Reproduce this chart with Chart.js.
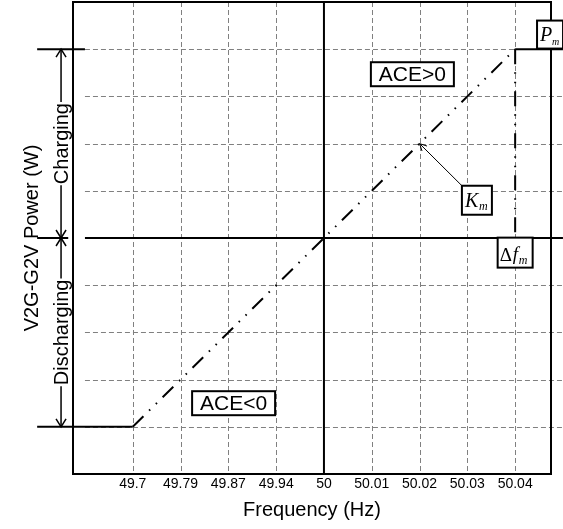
<!DOCTYPE html>
<html><head><meta charset="utf-8">
<script src="https://cdn.jsdelivr.net/npm/chart.js@4/dist/chart.umd.min.js"></script>
<style>html,body{margin:0;padding:0;background:#fff;}canvas{display:block;}</style>
</head><body>
<canvas id="c" width="563" height="529"></canvas>
<script>
// ---- data ----
const freqLabels = ['49.7','49.79','49.87','49.94','50','50.01','50.02','50.03','50.04'];
const freqTickIndex = [0,1,2,3,4,5,6,7,8];
const powerLevels = [-4,-3,-2,-1,0,1,2,3,4];
const powerX = [-2, 0, 8, 9];
const powerY = [-4, -4, 4, 4];
const limitX = [8, 8];
const limitY = [4, 0];
const aceLabels = ['ACE>0', 'ACE<0'];
const aceX = [5.85, 2.11];
const aceY = [3.47, -3.5];
const kmPoint = [6, 2];
const kmBox = [7.2, 0.8];
const dfBox = [8.0, -0.31];
const pmBox = [8.73, 4.31];
const sideLabels = ['Charging', 'Discharging'];
const sideLabelY = [2, -2];

const SANS = '"Liberation Sans", Arial, sans-serif';
const SERIF = '"Liberation Serif", "Times New Roman", serif';
const DDOT = [15, 8, 1.5, 8, 1.5, 8];
const GRID = '#808080';

function seg(ctx, x1, y1, x2, y2, color, w, dash) {
  ctx.save(); ctx.beginPath(); ctx.strokeStyle = color; ctx.lineWidth = w;
  ctx.setLineDash(dash || []); ctx.moveTo(x1, y1); ctx.lineTo(x2, y2); ctx.stroke(); ctx.restore();
}
function box(ctx, cx, cy, w, h) {
  ctx.save(); ctx.fillStyle = '#fff'; ctx.fillRect(cx - w/2, cy - h/2, w, h);
  ctx.strokeStyle = '#000'; ctx.lineWidth = 2; ctx.strokeRect(cx - w/2, cy - h/2, w, h); ctx.restore();
}
function arrowHead(ctx, tx, ty, dx, dy, len, half, w) {
  const L = Math.hypot(dx, dy); const ux = dx / L, uy = dy / L;
  const bx = tx - ux * len, by = ty - uy * len;
  const px = -uy * half, py = ux * half;
  ctx.save(); ctx.beginPath(); ctx.strokeStyle = '#000'; ctx.lineWidth = w;
  ctx.moveTo(bx + px, by + py); ctx.lineTo(tx, ty); ctx.lineTo(bx - px, by - py); ctx.stroke(); ctx.restore();
}

const decor = {
  id: 'decor',
  beforeDatasetsDraw(chart) {
    const {ctx, chartArea: a, scales: {x, y}} = chart;
    freqTickIndex.forEach(i => {
      if (freqLabels[i] === '50') return;
      const px = Math.round(x.getPixelForValue(i)) + 0.5;
      seg(ctx, px, a.top, px, a.bottom, GRID, 1, [5, 3]);
    });
    powerLevels.forEach(v => {
      if (v === 0) return;
      const py = Math.round(y.getPixelForValue(v)) + 0.5;
      seg(ctx, x.getPixelForValue(-1), py, x.getPixelForValue(9), py, GRID, 1, [5, 3]);
    });
    const x0 = x.getPixelForValue(4), y0 = y.getPixelForValue(0);
    seg(ctx, x0, a.top, x0, a.bottom, '#000', 2);
    seg(ctx, x.getPixelForValue(-1), y0, x.getPixelForValue(9), y0, '#000', 2);
    ctx.save(); ctx.strokeStyle = '#000'; ctx.lineWidth = 2;
    ctx.strokeRect(a.left, a.top, a.right - a.left, a.bottom - a.top); ctx.restore();
  },
  afterDatasetsDraw(chart) {
    const {ctx, scales: {x, y}} = chart;
    const ax = x.getPixelForValue(-1.5);
    const yTop = y.getPixelForValue(4), yZero = y.getPixelForValue(0), yBot = y.getPixelForValue(-4);
    seg(ctx, x.getPixelForValue(-2), yTop, x.getPixelForValue(-1), yTop, '#000', 2);
    seg(ctx, x.getPixelForValue(-2), yZero, x.getPixelForValue(-1.35), yZero, '#000', 2);
    ctx.font = '20px ' + SANS;
    const spans = [[yTop, yZero], [yZero, yBot]];
    sideLabels.forEach((t, i) => {
      const cy = y.getPixelForValue(sideLabelY[i]);
      const w = ctx.measureText(t).width;
      seg(ctx, ax, spans[i][0], ax, cy - w/2 - 1, '#000', 1.5);
      seg(ctx, ax, cy + w/2 + 1, ax, spans[i][1], '#000', 1.5);
      ctx.save(); ctx.translate(ax + 1, cy); ctx.rotate(-Math.PI/2);
      ctx.fillStyle = '#000'; ctx.textAlign = 'center'; ctx.textBaseline = 'middle';
      ctx.fillText(t, 0, 0); ctx.restore();
    });
    arrowHead(ctx, ax, yTop, 0, -1, 8, 5, 1.5);
    arrowHead(ctx, ax, yZero, 0, 1, 8, 5, 1.5);
    arrowHead(ctx, ax, yZero, 0, -1, 8, 5, 1.5);
    arrowHead(ctx, ax, yBot, 0, 1, 8, 5, 1.5);

    aceLabels.forEach((t, i) => {
      const cx = x.getPixelForValue(aceX[i]), cy = y.getPixelForValue(aceY[i]);
      box(ctx, cx, cy, 83, 24);
      ctx.save(); ctx.font = '21px ' + SANS; ctx.fillStyle = '#000';
      ctx.textAlign = 'center'; ctx.textBaseline = 'middle'; ctx.fillText(t, cx, cy + 1); ctx.restore();
    });

    const kx = x.getPixelForValue(kmBox[0]), ky = y.getPixelForValue(kmBox[1]);
    const kw = 30, kh = 29;
    const tx = x.getPixelForValue(kmPoint[0]), ty = y.getPixelForValue(kmPoint[1]);
    const sx = kx - kw/2, sy = ky - kh/2;
    seg(ctx, sx, sy, tx, ty, '#000', 1);
    arrowHead(ctx, tx, ty, tx - sx, ty - sy, 7, 3.5, 1);
    box(ctx, kx, ky, kw, kh);
    ctx.save(); ctx.fillStyle = '#000'; ctx.textBaseline = 'alphabetic';
    ctx.font = 'italic 20px ' + SERIF; ctx.fillText('K', sx + 3, sy + 21);
    ctx.font = 'italic 12px ' + SERIF; ctx.fillText('m', sx + 17, sy + 24);
    ctx.restore();

    const dx = x.getPixelForValue(dfBox[0]), dy = y.getPixelForValue(dfBox[1]);
    box(ctx, dx, dy, 35, 30);
    ctx.save(); ctx.fillStyle = '#000';
    const dl = dx - 17.5, dt = dy - 15;
    ctx.font = '19px ' + SERIF; ctx.fillText('\u0394', dl + 2, dt + 23);
    ctx.font = 'italic 19px ' + SERIF; ctx.fillText('f', dl + 15, dt + 22);
    ctx.font = 'italic 12px ' + SERIF; ctx.fillText('m', dl + 21, dt + 26);
    ctx.restore();

    const px = x.getPixelForValue(pmBox[0]), py = y.getPixelForValue(pmBox[1]);
    box(ctx, px, py, 26, 28);
    ctx.save(); ctx.fillStyle = '#000';
    const pl = px - 13, pt = py - 14;
    ctx.font = 'italic 20px ' + SERIF; ctx.fillText('P', pl + 3, pt + 20);
    ctx.font = 'italic 10px ' + SERIF; ctx.fillText('m', pl + 15, pt + 24);
    ctx.restore();
  }
};

new Chart(document.getElementById('c'), {
  type: 'scatter',
  data: {
    datasets: [{
      data: powerX.map((v, i) => ({x: v, y: powerY[i]})),
      showLine: true, borderColor: '#000', borderWidth: 2, pointRadius: 0, clip: false, fill: false,
      segment: { borderDash: c => c.p0DataIndex === 1 ? DDOT : [] }
    }, {
      data: limitX.map((v, i) => ({x: v, y: limitY[i]})),
      showLine: true, borderColor: '#000', borderWidth: 2, pointRadius: 0, clip: false, fill: false,
      borderDash: DDOT
    }]
  },
  options: {
    responsive: false, animation: false, devicePixelRatio: 1,
    layout: { padding: { top: 2, right: 12, left: 0, bottom: 0 } },
    plugins: { legend: { display: false }, tooltip: { enabled: false } },
    scales: {
      x: {
        type: 'linear', min: -1.25, max: 8.75,
        afterBuildTicks: s => { s.ticks = freqTickIndex.map(v => ({value: v})); },
        afterFit: s => { s.height = 55; },
        ticks: { autoSkip: false, maxRotation: 0, padding: 2, color: '#000',
          font: { size: 14, family: SANS },
          callback: v => freqLabels[v] !== undefined ? freqLabels[v] : '' },
        grid: { display: false, drawTicks: false },
        border: { display: false },
        title: { display: true, text: 'Frequency (Hz)', color: '#000',
          font: { size: 20, family: SANS }, padding: { top: 0, bottom: 7 } }
      },
      y: {
        type: 'linear', min: -5, max: 5,
        afterFit: s => { s.width = 73; },
        ticks: { display: false },
        grid: { display: false, drawTicks: false },
        border: { display: false },
        title: { display: true, text: 'V2G-G2V Power (W)', color: '#000',
          font: { size: 20, family: SANS }, padding: { top: 20, bottom: 0 } }
      }
    }
  },
  plugins: [decor]
});
</script>
</body></html>
